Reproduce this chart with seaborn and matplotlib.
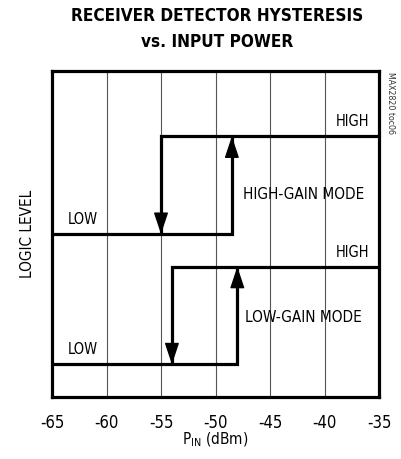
import pandas as pd
import matplotlib
matplotlib.use("Agg")
import matplotlib.pyplot as plt
import seaborn as sns

# x axis
x_ticks = [-65, -60, -55, -50, -45, -40, -35]
x_min, x_max = -65, -35

# hysteresis thresholds (dBm)
modes = ["HIGH-GAIN MODE", "LOW-GAIN MODE"]
up_threshold = [-48.5, -48.0]
down_threshold = [-55.0, -54.0]
# logic levels on an arbitrary 0..1 scale
high_level = [0.8, 0.4]
low_level = [0.5, 0.1]

sns.set_style("white")
plt.rcParams["font.family"] = ["DejaVu Sans"]
plt.rcParams["font.stretch"] = "condensed"
plt.rcParams["text.color"] = "black"
plt.rcParams["axes.labelcolor"] = "black"
plt.rcParams["xtick.color"] = "black"

fig = plt.figure(figsize=(4.01, 4.59), dpi=100)
ax = fig.add_axes([0.1297, 0.135, 0.8155, 0.710])

# build the step paths
rows = []
for i, mode in enumerate(modes):
    rising = [(x_min, low_level[i]), (up_threshold[i], low_level[i]),
              (up_threshold[i], high_level[i])]
    falling = [(x_max, high_level[i]), (down_threshold[i], high_level[i]),
               (down_threshold[i], low_level[i])]
    for x, y in rising:
        rows.append({"path": f"{mode} up", "x": x, "y": y})
    for x, y in falling:
        rows.append({"path": f"{mode} down", "x": x, "y": y})
df = pd.DataFrame(rows)

sns.lineplot(data=df, x="x", y="y", units="path", estimator=None, sort=False,
             color="black", linewidth=2.3, ax=ax, legend=False,
             solid_joinstyle="miter", zorder=3)

# arrowheads + labels
head = dict(arrowstyle="-|>,head_length=1.35,head_width=0.45", color="black",
            lw=1.0, shrinkA=0, shrinkB=0, mutation_scale=10)
mode_label_y = [0.62, 0.245]
for i in range(len(modes)):
    ax.annotate("", xy=(up_threshold[i], high_level[i]),
                xytext=(up_threshold[i], high_level[i] - 0.06),
                arrowprops=head, zorder=4)
    ax.annotate("", xy=(down_threshold[i], low_level[i]),
                xytext=(down_threshold[i], low_level[i] + 0.06),
                arrowprops=head, zorder=4)
    ax.text(-35.9, high_level[i] + 0.022, "HIGH", ha="right", va="bottom",
            fontsize=10.5)
    ax.text(-63.6, low_level[i] + 0.022, "LOW", ha="left", va="bottom",
            fontsize=10.5)
    ax.text(-41.95, mode_label_y[i], modes[i], ha="center", va="center",
            fontsize=11)

ax.set_xlim(x_min, x_max)
ax.set_ylim(0, 1)
ax.set_xticks(x_ticks)
ax.set_xticklabels([str(t) for t in x_ticks], fontsize=12)
ax.set_yticks([])
ax.tick_params(axis="x", length=0, pad=12)
ax.grid(axis="x", color="#555555", linewidth=0.8)
ax.grid(axis="y", visible=False)
for s in ax.spines.values():
    s.set_visible(True)
    s.set_color("black")
    s.set_linewidth(2.3)

ax.set_xlabel(r"P$_{\mathregular{IN}}$ (dBm)", fontsize=11, labelpad=-1)
ax.set_ylabel("LOGIC LEVEL", fontsize=11, labelpad=12)

fig.text(0.541, 0.965, "RECEIVER DETECTOR HYSTERESIS", ha="center", va="center",
         fontsize=12.3, fontweight="bold")
fig.text(0.541, 0.908, "vs. INPUT POWER", ha="center", va="center",
         fontsize=12.3, fontweight="bold")
fig.text(0.975, 0.844, "MAX2820 toc06", ha="center", va="top", rotation=270,
         fontsize=6.3, color="#333333")

fig.savefig("out.png", dpi=100)
